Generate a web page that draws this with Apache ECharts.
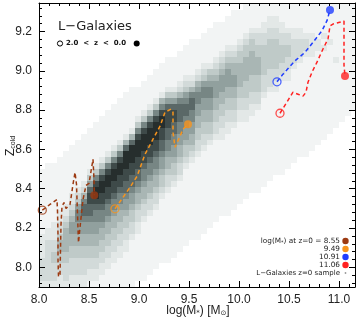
<!DOCTYPE html>
<html><head><meta charset="utf-8">
<script src="https://cdn.jsdelivr.net/npm/echarts@6/dist/echarts.min.js"></script>
<style>html,body{margin:0;padding:0;background:#fff}#c{width:360px;height:319px}</style>
</head><body><div id="c"></div>
<script>
// ---------- data ----------
const xMin = 8.0, xMax = 11.16, yMin = 7.90, yMax = 9.345;
const xBinStart = 8.0, xBinWidth = 0.06, yBinStart = 7.90, yBinWidth = 0.03;

// 2D histogram of the z=0 sample: per x-column, first y-bin and grey levels (0-9) upward
const bandStart = [0,0,0,0,0,0,0,0,1,1,2,3,4,5,6,8,9,11,12,13,15,16,17,18,20,21,22,23,24,25,25,26,27,28,28,29,30,32,33,33,35,35,37,38,39,39,40,40,41,38];
const bandLevels = [
 "122221111","1222222211","12223322111","1122334432211","12223344443211",
 "1122233445543211","11222334455665321","112223344556776421","1122334455677887531","11223344556678998631",
 "11223344566788998631","11223344566788998631","11223344566788998631","11223344566788998631","11223345567788999741",
 "1223345567788999741","11223445677889998631","1223445667889998631","1223445667889998631","1223445667889998631",
 "123345567788998641","122344566778887531","12334556677887531","12234455667776421","1233455667765321",
 "123445566776421","122334455665421","122334455665321","12334455665431","12233445554321",
 "112233445554321","112233445554321","12233445544321","11223344443321","112233344443321",
 "112233344443321","12233344433221","1222333332211","1222333332211","1122333332211",
 "1223332211","112233221","1222211","122211","1221","1111","11","101","1","1"
];
// faint speckle of individual galaxies: per x-column lowest / highest y-bin
const dotLow  = [0,0,0,0,0,0,0,0,0,0,0,0,0,0,0,0,1,1,2,3,4,4,5,6,7,8,8,9,10,11,12,12,13,14,15,16,16,17,18,19,19,20,21,22,22,23,24,25,26,27,28,29,30];
const dotHigh = [19,20,20,21,22,23,24,25,26,27,28,29,30,31,32,33,33,34,35,36,37,38,38,39,40,41,41,42,43,44,44,45,46,46,47,47,47,47,47,47,47,47,47,47,47,47,47,47,47,47,47,47,47];

// evolutionary tracks (log M*, Z_cold) from z=2 (first) to z=0 (last)
const track855 = [[8.033,8.291],[8.11,8.320],[8.18,8.345],[8.185,8.284],[8.19,8.167],[8.19,8.039],[8.195,7.952],[8.21,7.963],[8.215,8.091],[8.22,8.218],[8.23,8.310],[8.25,8.330],[8.27,8.300],[8.31,8.320],[8.34,8.422],[8.36,8.483],[8.375,8.422],[8.385,8.269],[8.395,8.126],[8.41,8.203],[8.44,8.345],[8.47,8.417],[8.50,8.427],[8.52,8.488],[8.54,8.550],[8.55,8.447],[8.553,8.367]];
const track949 = [[8.76,8.298],[8.91,8.407],[8.98,8.463],[9.06,8.575],[9.14,8.652],[9.21,8.718],[9.26,8.789],[9.32,8.805],[9.34,8.789],[9.34,8.687],[9.36,8.611],[9.41,8.667],[9.44,8.703],[9.49,8.728]];
const track1091 = [[10.38,8.944],[10.44,8.983],[10.56,9.051],[10.66,9.094],[10.74,9.145],[10.83,9.204],[10.88,9.255],[10.91,9.310]];
const track1106 = [[10.41,8.784],[10.54,8.891],[10.59,8.881],[10.64,8.871],[10.67,8.891],[10.69,8.942],[10.73,8.993],[10.78,9.044],[10.84,9.111],[10.89,9.162],[10.91,9.228],[10.94,9.238],[11.05,9.253],[11.05,9.197],[11.05,9.029],[11.06,8.973]];
const trackMass = ['8.55','9.49','10.91','11.06'];
const trackColors = ['#9c3a12','#f7941d','#1f3dff','#ff2222'];

const xMajor = [8.0,8.5,9.0,9.5,10.0,10.5,11.0];
const xMinor = [8.1,8.2,8.3,8.4,8.6,8.7,8.8,8.9,9.1,9.2,9.3,9.4,9.6,9.7,9.8,9.9,10.1,10.2,10.3,10.4,10.6,10.7,10.8,10.9,11.1];
const yMajor = [8.0,8.2,8.4,8.6,8.8,9.0,9.2];
const yMinor = [7.92,7.96,8.04,8.08,8.12,8.16,8.24,8.28,8.32,8.36,8.44,8.48,8.52,8.56,8.64,8.68,8.72,8.76,8.84,8.88,8.92,8.96,9.04,9.08,9.12,9.16,9.24,9.28,9.32];

// ---------- chart ----------
const cellColors = ['#ffffff','#e3e8e7','#d2dad9','#bfcac8','#a9b6b4','#91a09e','#778684','#5a6867','#3e4a49','#262e2d'];
const dotColor = '#f2f4f4';

const dotCells = [];
dotLow.forEach((lo, i) => { for (let j = lo; j <= dotHigh[i]; j++) dotCells.push([xBinStart + i * xBinWidth, yBinStart + j * yBinWidth, 0]); });
const bandCells = [];
bandStart.forEach((s, i) => {
  const str = bandLevels[i];
  for (let k = 0; k < str.length; k++) {
    const lv = +str[k];
    if (lv > 0) bandCells.push([xBinStart + i * xBinWidth, yBinStart + (s + k) * yBinWidth, lv]);
  }
});

function cellRenderer(fillFor) {
  return function (params, api) {
    const x0 = api.value(0), y0 = api.value(1), lv = api.value(2);
    const a = api.coord([x0, y0 + yBinWidth]);
    const b = api.coord([x0 + xBinWidth, y0]);
    const l = Math.round(a[0]), t = Math.round(a[1]), r = Math.round(b[0]), bt = Math.round(b[1]);
    const cs = params.coordSys;
    const shape = echarts.graphic.clipRectByRect({x: l, y: t, width: r - l, height: bt - t},
      {x: cs.x, y: cs.y, width: cs.width, height: cs.height});
    if (!shape) return null;
    return {type: 'rect', shape: shape, style: {fill: fillFor(lv)}};
  };
}

const axisFont = {fontFamily: 'Liberation Sans', fontSize: 12, color: '#222'};
function mkAxis(kind, pos, ticks, len, showLine, labels) {
  return {
    type: 'value', min: kind === 'x' ? xMin : yMin, max: kind === 'x' ? xMax : yMax,
    position: pos, z: 10,
    axisLine: {show: showLine, onZero: false, lineStyle: {color: '#000', width: 1}},
    axisTick: {show: true, inside: true, length: len, customValues: ticks, lineStyle: {color: '#000', width: 1}},
    axisLabel: labels ? Object.assign({show: true, customValues: ticks, formatter: v => v.toFixed(1), margin: 7}, axisFont) : {show: false},
    splitLine: {show: false}, minorTick: {show: false}, minorSplitLine: {show: false}
  };
}

const tracks = [track855, track949, track1091, track1106];
const series = [
  {type: 'custom', xAxisIndex: 0, yAxisIndex: 0, z: 1, silent: true, animation: false,
   renderItem: cellRenderer(() => dotColor), data: dotCells, encode: {x: 0, y: 1}},
  {type: 'custom', xAxisIndex: 0, yAxisIndex: 0, z: 2, silent: true, animation: false,
   renderItem: cellRenderer(lv => cellColors[lv]), data: bandCells, encode: {x: 0, y: 1}}
];
tracks.forEach((t, k) => {
  const c = trackColors[k];
  series.push({type: 'line', xAxisIndex: 0, yAxisIndex: 0, z: 5, data: t, symbol: 'none', animation: false,
    lineStyle: {color: c, width: 1.5, type: [4, 3]}});
  series.push({type: 'scatter', xAxisIndex: 0, yAxisIndex: 0, z: 6, animation: false, symbolSize: 8,
    data: [
      {value: t[0], itemStyle: {color: 'rgba(255,255,255,0)', borderColor: c, borderWidth: 1.3}},
      {value: t[t.length - 1], itemStyle: {color: c}}
    ]});
});

const legendY = [241, 249, 257, 265];
const legendFont = {fontFamily: 'DejaVu Sans', fontSize: 7.3, color: '#222'};
const graphics = [
  {type: 'text', x: 58, y: 27, z: 20, style: {text: 'L\u2212Galaxies', font: '13px "DejaVu Sans"', fill: '#222', textAlign: 'left', textVerticalAlign: 'middle'}},
  {type: 'circle', z: 20, shape: {cx: 60, cy: 43.5, r: 2.6}, style: {fill: 'none', stroke: '#000', lineWidth: 1}},
  {type: 'text', x: 66, y: 43.5, z: 20, style: {text: '2.0  <  z  <  0.0', font: 'bold 7px "DejaVu Sans"', fill: '#111', textAlign: 'left', textVerticalAlign: 'middle'}},
  {type: 'circle', z: 20, shape: {cx: 136.7, cy: 43.5, r: 3}, style: {fill: '#000'}},
  {type: 'text', x: 198, y: 311, z: 20, style: {
    text: '{a|log(M}{b|*}{a|) [M}{b|\u2299}{a|]}', textAlign: 'center', textVerticalAlign: 'middle',
    rich: {a: {fontFamily: 'Liberation Sans', fontSize: 12, fill: '#222', lineHeight: 12, padding: [0, 0, 3, 0], verticalAlign: 'top'},
           b: {fontFamily: 'DejaVu Sans', fontSize: 7, fill: '#222', lineHeight: 8, verticalAlign: 'bottom'}}}},
  {type: 'text', x: 11, y: 146, z: 20, rotation: Math.PI / 2, style: {
    text: '{a|Z}{b|cold}', textAlign: 'center', textVerticalAlign: 'middle',
    rich: {a: {fontFamily: 'Liberation Sans', fontSize: 12, fill: '#222', lineHeight: 12, padding: [0, 0, 3, 0], verticalAlign: 'top'},
           b: {fontFamily: 'Liberation Sans', fontSize: 7, fill: '#222', lineHeight: 8, verticalAlign: 'bottom'}}}}
];
trackMass.forEach((m, k) => {
  const txt = k === 0 ? '{a|log(M}{b|*}{a|) at z=0 = ' + m + '}' : '{a|' + m + '}';
  graphics.push({type: 'text', x: 340, y: legendY[k], z: 20, style: {
    text: txt, textAlign: 'right', textVerticalAlign: 'middle',
    rich: {a: Object.assign({fill: '#222', lineHeight: 8}, legendFont), b: {fontFamily: 'DejaVu Sans', fontSize: 5, fill: '#222', lineHeight: 8, verticalAlign: 'bottom'}}}});
  graphics.push({type: 'circle', z: 20, shape: {cx: 345.5, cy: legendY[k], r: 3.2}, style: {fill: trackColors[k]}});
});
graphics.push({type: 'text', x: 340, y: 273, z: 20, style: {text: 'L\u2212Galaxies z=0 sample', font: '7px "DejaVu Sans"', fill: '#222', textAlign: 'right', textVerticalAlign: 'middle'}});
graphics.push({type: 'circle', z: 20, shape: {cx: 345.5, cy: 273, r: 0.9}, style: {fill: '#999'}});

const chart = echarts.init(document.getElementById('c'), null, {renderer: 'canvas', width: 360, height: 319});
chart.setOption({
  animation: false,
  backgroundColor: '#fff',
  grid: {left: 39, right: 5, top: 3, bottom: 32, containLabel: false, outerBoundsMode: 'none'},
  xAxis: [
    mkAxis('x', 'bottom', xMajor, 6, true, true),
    mkAxis('x', 'bottom', xMinor, 3, false, false),
    mkAxis('x', 'top', xMajor, 6, true, false),
    mkAxis('x', 'top', xMinor, 3, false, false)
  ],
  yAxis: [
    mkAxis('y', 'left', yMajor, 6, true, true),
    mkAxis('y', 'left', yMinor, 3, false, false),
    mkAxis('y', 'right', yMajor, 6, true, false),
    mkAxis('y', 'right', yMinor, 3, false, false)
  ],
  series: series,
  graphic: graphics
});
</script>
</body></html>
